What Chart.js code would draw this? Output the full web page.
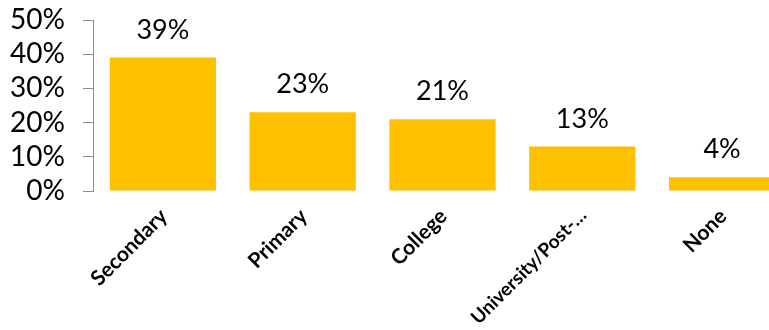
<!DOCTYPE html>
<html>
<head>
<meta charset="utf-8">
<script src="https://cdn.jsdelivr.net/npm/chart.js@4/dist/chart.umd.min.js"></script>
<style>
  html, body { margin: 0; padding: 0; background: #fff; overflow: hidden; }
  #wrap { position: relative; width: 792px; height: 330px; }
</style>
</head>
<body>
<div id="wrap"><canvas id="chart"></canvas></div>
<script>
// Highest level of education attained
const categories = ['Secondary', 'Primary', 'College', 'University/Post-…', 'None'];
const shares = [39, 23, 21, 13, 4];
const tickValues = [0, 10, 20, 30, 40, 50];

const FONT = 'Lato, "Open Sans", sans-serif';
const AXIS_GREY = '#8c8c8c';

// Percentage labels drawn above each bar
const valueLabels = {
  id: 'valueLabels',
  afterDatasetsDraw(chart) {
    const ctx = chart.ctx;
    const meta = chart.getDatasetMeta(0);
    ctx.save();
    ctx.font = '27px ' + FONT;
    ctx.fillStyle = '#000';
    ctx.textAlign = 'center';
    ctx.textBaseline = 'alphabetic';
    meta.data.forEach((bar, i) => {
      ctx.fillText(shares[i] + '%', bar.x, bar.y - 19);
    });
    ctx.restore();
  }
};

new Chart(document.getElementById('chart'), {
  type: 'bar',
  data: {
    labels: categories,
    datasets: [{
      data: shares,
      backgroundColor: '#FFC000',
      borderWidth: 0,
      barPercentage: 0.76,
      categoryPercentage: 1.0
    }]
  },
  options: {
    responsive: true,
    maintainAspectRatio: false,
    devicePixelRatio: 1,
    animation: false,
    layout: { padding: { top: 20, left: 0, right: 0, bottom: 0 } },
    plugins: {
      legend: { display: false },
      tooltip: { enabled: false }
    },
    scales: {
      x: {
        grid: { display: false },
        border: { display: false },
        ticks: {
          color: '#000',
          // the long truncated label is set a touch smaller so it stays on the canvas
          font: c => ({ family: FONT, size: c.index === 3 ? 19 : 21, weight: 'bold' }),
          minRotation: 45,
          maxRotation: 45,
          autoSkip: false,
          padding: 5,
          labelOffset: 1
        },
        afterFit(scale) {
          scale.height = 139;
          scale.paddingLeft = 0;
          scale.paddingRight = 0;
        }
      },
      y: {
        min: 0,
        max: 50,
        afterBuildTicks(scale) {
          scale.ticks = tickValues.map(v => ({ value: v }));
        },
        grid: {
          display: true,
          drawOnChartArea: false,
          drawTicks: true,
          tickLength: 10,
          color: AXIS_GREY,
          lineWidth: 1
        },
        border: { display: true, color: AXIS_GREY, width: 1 },
        ticks: {
          color: '#000',
          font: { family: FONT, size: 28 },
          padding: 18,
          autoSkip: false,
          callback: v => v + '%'
        },
        afterFit(scale) {
          scale.width = 93;
          scale.paddingTop = 0;
          scale.paddingBottom = 0;
        }
      }
    }
  },
  plugins: [valueLabels]
});
</script>
</body>
</html>
